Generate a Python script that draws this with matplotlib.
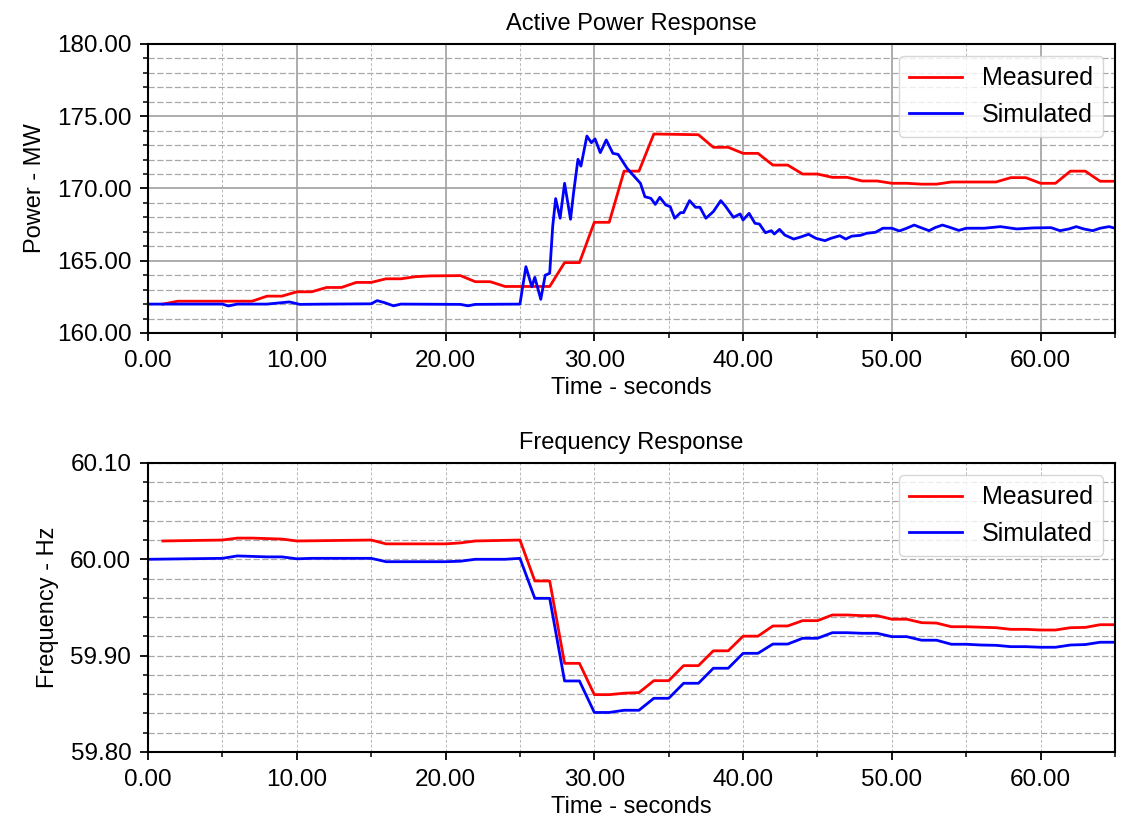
import numpy as np
from matplotlib import pyplot as plt
from matplotlib.ticker import MultipleLocator, FormatStrFormatter

plt.rcParams['font.family'] = ['Liberation Sans', 'DejaVu Sans']

# potencia activa - medida (t, MW)
t_pm = [1, 2, 7, 8, 9, 10, 11, 12, 13, 14, 15, 16, 17, 18, 19, 21, 22, 23, 24, 27,
        28, 29, 30, 31, 32, 33, 34, 37, 38, 39, 40, 41, 42, 43, 44, 45, 46, 47, 48,
        49, 50, 51, 52, 53, 54, 57, 58, 59, 60, 61, 62, 63, 64, 65]
p_med = [162.0, 162.2, 162.2, 162.55, 162.55, 162.85, 162.85, 163.15, 163.15, 163.5,
         163.5, 163.75, 163.75, 163.9, 163.95, 163.97, 163.55, 163.55, 163.22, 163.22,
         164.87, 164.87, 167.66, 167.66, 171.2, 171.2, 173.77, 173.72, 172.85, 172.85,
         172.43, 172.43, 171.62, 171.62, 171.0, 171.0, 170.77, 170.77, 170.52, 170.52,
         170.36, 170.36, 170.3, 170.3, 170.45, 170.45, 170.75, 170.75, 170.36, 170.36,
         171.2, 171.2, 170.5, 170.5]

# potencia activa - simulada
t_ps = [0, 2, 5, 5.4, 6, 8, 9.5, 10.2, 12, 15, 15.4, 15.9, 16.5, 17, 21, 21.5, 22, 25.0,
        25.4, 25.8, 26.0, 26.4, 26.7, 27.0, 27.2, 27.4, 27.7, 28.0, 28.4, 28.6, 28.9,
        29.1, 29.5, 29.8, 30.05, 30.4, 30.8, 31.25, 31.6, 32.2, 32.6, 33.1, 33.4, 33.8,
        34.1, 34.4, 34.8, 35.1, 35.4, 35.8, 36.0, 36.4, 36.8, 37.1, 37.5, 38.0, 38.5,
        38.8, 39.35, 39.8, 40.0, 40.4, 40.8, 41.1, 41.5, 41.9, 42.1, 42.45, 42.8, 43.4,
        43.8, 44.4, 44.9, 45.5, 45.9, 46.5, 46.9, 47.3, 47.9, 48.3, 48.9, 49.4, 50.0,
        50.5, 51.0, 51.5, 51.9, 52.5, 52.9, 53.4, 53.9, 54.5, 55.0, 56.2, 57.3, 58.4,
        59.5, 60.7, 61.3, 61.9, 62.4, 62.9, 63.5, 64.0, 64.6, 65.0]
p_sim = [162.0, 162.0, 162.0, 161.87, 162.0, 162.0, 162.15, 161.98, 162.0, 162.02,
         162.24, 162.1, 161.88, 162.0, 161.98, 161.88, 161.98, 162.0,
         164.59, 163.2, 163.85, 162.33, 164.0, 164.13, 167.36, 169.3, 167.94, 170.36,
         167.87, 169.66, 172.02, 171.55, 173.63, 173.17, 173.43, 172.48, 173.36, 172.43,
         172.36, 171.4, 170.93, 170.36, 169.43, 169.32, 168.9, 169.39, 168.86, 168.74,
         167.94, 168.33, 168.33, 169.16, 168.7, 168.7, 167.94, 168.4, 169.16, 168.8,
         168.0, 168.24, 167.82, 168.28, 167.59, 167.54, 166.94, 167.08, 166.85, 167.17,
         166.78, 166.5, 166.62, 166.83, 166.55, 166.39, 166.55, 166.73, 166.5, 166.7,
         166.76, 166.9, 166.97, 167.25, 167.25, 167.06, 167.25, 167.47, 167.31, 167.08,
         167.29, 167.47, 167.31, 167.1, 167.25, 167.25, 167.36, 167.2, 167.27, 167.29,
         167.08, 167.2, 167.36, 167.2, 167.08, 167.25, 167.36, 167.25]

# frecuencia - medida (t, Hz)
t_fm = [1, 5, 6, 7, 9, 10, 15, 16, 20, 21, 22, 25, 26, 27, 28, 29, 30, 31, 32, 33,
        34, 35, 36, 37, 38, 39, 40, 41, 42, 43, 44, 45, 46, 47, 48, 49, 50, 51, 52,
        53, 54, 55, 56, 57, 58, 59, 60, 61, 62, 63, 64, 65]
f_med = [60.019, 60.02, 60.022, 60.022, 60.021, 60.019, 60.02, 60.016, 60.016, 60.017,
         60.019, 60.02, 59.9775, 59.9775, 59.892, 59.892, 59.8595, 59.8595, 59.861,
         59.8616, 59.874, 59.874, 59.8896, 59.8896, 59.905, 59.905, 59.9202, 59.9202,
         59.9308, 59.9308, 59.9363, 59.9363, 59.9422, 59.9422, 59.9415, 59.9415, 59.9378,
         59.9378, 59.9342, 59.9338, 59.930, 59.930, 59.9295, 59.929, 59.9273, 59.9273,
         59.9266, 59.9266, 59.929, 59.9293, 59.9321, 59.9321]

# frecuencia - simulada
t_fs = [0, 5, 6, 8, 9, 10, 11, 15, 16, 20, 21, 22, 24, 25, 26, 27, 28, 29, 30, 31,
        32, 33, 34, 35, 36, 37, 38, 39, 40, 41, 42, 43, 44, 45, 46, 47, 48, 49, 50, 51,
        52, 53, 54, 55, 56, 57, 58, 59, 60, 61, 62, 63, 64, 65]
f_sim = [60.0, 60.001, 60.0035, 60.0025, 60.0025, 60.0005, 60.001, 60.001, 59.9975,
         59.9975, 59.998, 60.0, 60.0, 60.001, 59.9595, 59.9595, 59.8737, 59.8737, 59.841,
         59.841, 59.8433, 59.8433, 59.8557, 59.8557, 59.8713, 59.8713, 59.8869, 59.8869,
         59.9024, 59.9024, 59.912, 59.912, 59.918, 59.918, 59.9238, 59.9238, 59.9232,
         59.9232, 59.9197, 59.9197, 59.916, 59.916, 59.9118, 59.9118, 59.911, 59.9107,
         59.9093, 59.9093, 59.9087, 59.9087, 59.911, 59.9115, 59.9139, 59.9139]

fig = plt.figure(figsize=(11.24, 8.22), dpi=100)
ax1 = fig.add_axes([0.1317, 0.5949, 0.8603, 0.3516])
ax2 = fig.add_axes([0.1317, 0.0852, 0.8603, 0.3516])

ax1.plot(t_pm, p_med, color='#ff0000', lw=2.0, label='Measured')
ax1.plot(t_ps, p_sim, color='#0000ff', lw=2.0, label='Simulated')
ax2.plot(t_fm, f_med, color='#ff0000', lw=2.0, label='Measured')
ax2.plot(t_fs, f_sim, color='#0000ff', lw=2.0, label='Simulated')

ax1.set_ylim(160, 180)
ax1.yaxis.set_major_locator(MultipleLocator(5))
ax1.yaxis.set_minor_locator(MultipleLocator(1))
ax2.set_ylim(59.8, 60.1)
ax2.yaxis.set_major_locator(MultipleLocator(0.1))
ax2.yaxis.set_minor_locator(MultipleLocator(0.02))

for ax, titulo, ylab in [(ax1, 'Active Power Response', 'Power - MW'),
                         (ax2, 'Frequency Response', 'Frequency - Hz')]:
    ax.set_xlim(0, 65)
    ax.xaxis.set_major_locator(MultipleLocator(10))
    ax.xaxis.set_minor_locator(MultipleLocator(5))
    ax.xaxis.set_major_formatter(FormatStrFormatter('%.2f'))
    ax.yaxis.set_major_formatter(FormatStrFormatter('%.2f'))
    ax.set_title(titulo, fontsize=17, pad=10)
    ax.set_xlabel('Time - seconds', fontsize=17, labelpad=4)
    ax.set_ylabel(ylab, fontsize=17, labelpad=8)
    ax.tick_params(which='major', direction='out', length=6, width=1.3, labelsize=17.5, pad=6)
    ax.tick_params(which='minor', direction='out', length=3.5, width=1.1)
    for s in ax.spines.values():
        s.set_linewidth(1.5)
    ax.grid(True, which='minor', axis='y', color='#a8a8a8', ls=(0, (5, 2)), lw=0.9)
    ax.grid(True, which='minor', axis='x', color='#b8b8b8', ls=(0, (3, 2)), lw=0.7)
    ax.legend(loc='upper right', fontsize=18, handlelength=2.1)

ax1.grid(True, which='major', color='#a0a0a0', ls='-', lw=1.2)
ax2.grid(True, which='major', axis='y', color='#a8a8a8', ls=(0, (5, 2)), lw=0.9)
ax2.grid(True, which='major', axis='x', color='#b8b8b8', ls=(0, (3, 2)), lw=0.7)
for ax in (ax1, ax2):
    ax.set_axisbelow(True)

plt.savefig('out.png', dpi=100)
